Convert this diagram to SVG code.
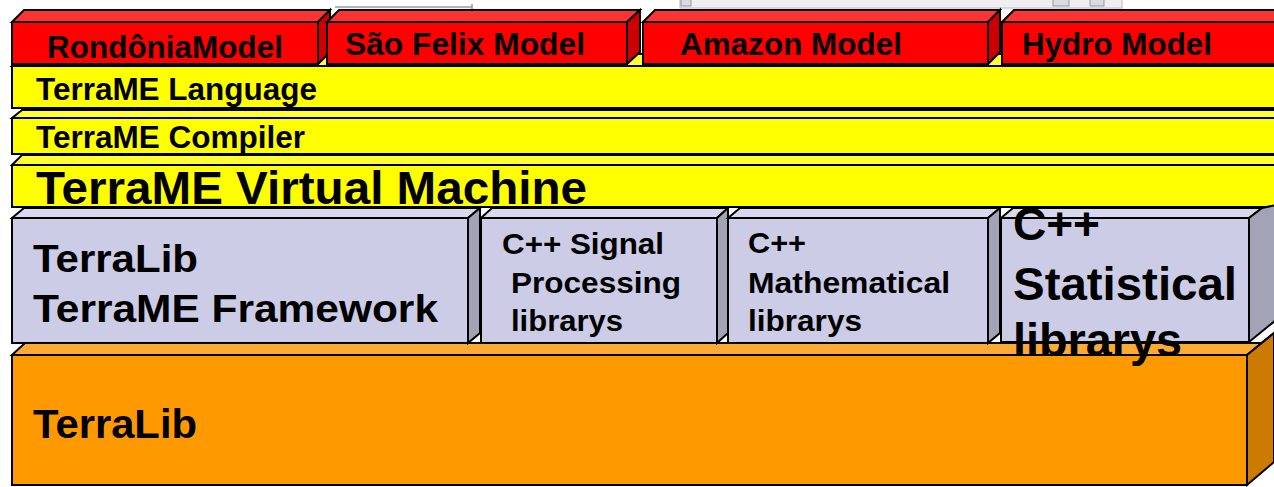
<svg xmlns="http://www.w3.org/2000/svg" width="1274" height="487" viewBox="0 0 1274 487">
<style>
  .b{stroke:#000;stroke-width:2;stroke-linejoin:miter}
  .rf{fill:#FF0000}.rt{fill:#FF3333}.rs{fill:#CC0000}
  .yf{fill:#FFFF00}.yt{fill:#FFFF33}
  .lf{fill:#CCCCE6}.lt{fill:#D9D9EE}.ls{fill:#A3A3B8}
  .of{fill:#FF9900}.ot{fill:#FFAA33}.os{fill:#CC7A00}
  text{font-family:"Liberation Sans",Arial,sans-serif;font-weight:bold;fill:#000}
  .s30{font-size:31px}.s29{font-size:30px}.s38{font-size:39px}.s41{font-size:41px}.s44{font-size:46px}
</style>
<rect width="1274" height="487" fill="#fff"/>
<g id="ui-fragment">
  <line x1="335" y1="7" x2="472" y2="7" stroke="#9a9a9a" stroke-width="1.5"/>
  <line x1="472" y1="4" x2="472" y2="9" stroke="#9a9a9a" stroke-width="1.5"/>
  <rect x="680" y="-2" width="442" height="10" fill="#EFEFF3" stroke="#B8B8C0" stroke-width="1"/>
  <rect x="681" y="-2" width="10" height="8" fill="#DADAE2" stroke="#999" stroke-width="1"/>
  <rect x="1053" y="-2" width="16" height="8" fill="#DADAE2" stroke="#999" stroke-width="1"/>
  <rect x="1090" y="-2" width="14" height="8" fill="#DADAE2" stroke="#999" stroke-width="1"/>
</g>
<g id="orange-terralib">
  <polygon class="b ot" points="12,355 25,343 1274,343 1274,333 1247,355"/>
  <polygon class="b os" points="1247,355 1274,333 1274,462 1247,485"/>
  <rect class="b of" x="12" y="355" width="1235" height="130"/>
  <text class="s41" x="33" y="438" textLength="164" lengthAdjust="spacingAndGlyphs">TerraLib</text>
</g>
<g id="yellow-language">
  <polygon class="b yt" points="12,66 24,54 1290,54 1278,66"/>
  <rect class="b yf" x="12" y="66" width="1280" height="42"/>
  <text class="s30" x="36" y="100" textLength="281" lengthAdjust="spacingAndGlyphs">TerraME Language</text>
</g>
<g id="yellow-compiler">
  <polygon class="b yt" points="12,118 22,110 1290,110 1280,118"/>
  <rect class="b yf" x="12" y="118" width="1280" height="36"/>
  <text class="s30" x="36" y="148" textLength="269" lengthAdjust="spacingAndGlyphs">TerraME Compiler</text>
</g>
<g id="yellow-vm">
  <polygon class="b yt" points="12,165 22,155 1290,155 1280,165"/>
  <rect class="b yf" x="12" y="165" width="1280" height="42"/>
  <text class="s44" x="36" y="204" textLength="551" lengthAdjust="spacingAndGlyphs">TerraME Virtual Machine</text>
</g>
<g id="red-rondonia">
  <polygon class="b rt" points="12,22 24,10 330,10 318,22"/>
  <polygon class="b rs" points="318,22 330,10 330,52 318,64"/>
  <rect class="b rf" x="12" y="22" width="306" height="42"/>
  <text class="s30" x="47" y="58" textLength="236" lengthAdjust="spacingAndGlyphs">RondôniaModel</text>
</g>
<g id="red-saofelix">
  <polygon class="b rt" points="327,22 339,10 640,10 627,22"/>
  <polygon class="b rs" points="627,22 640,10 640,52 627,64"/>
  <rect class="b rf" x="327" y="22" width="300" height="42"/>
  <text class="s30" x="345" y="55" textLength="240" lengthAdjust="spacingAndGlyphs">São Felix Model</text>
</g>
<g id="red-amazon">
  <polygon class="b rt" points="643,22 655,10 1000,10 988,22"/>
  <polygon class="b rs" points="988,22 1000,10 1000,52 988,64"/>
  <rect class="b rf" x="643" y="22" width="345" height="42"/>
  <text class="s30" x="680" y="55" textLength="222" lengthAdjust="spacingAndGlyphs">Amazon Model</text>
</g>
<g id="red-hydro">
  <polygon class="b rt" points="1002,22 1014,10 1290,10 1280,22"/>
  <rect class="b rf" x="1002" y="22" width="290" height="42"/>
  <text class="s30" x="1022" y="55" textLength="190" lengthAdjust="spacingAndGlyphs">Hydro Model</text>
</g>
<g id="lav-framework">
  <polygon class="b lt" points="12,218 24,208 480,208 468,218"/>
  <polygon class="b ls" points="468,218 480,208 480,333 468,343"/>
  <rect class="b lf" x="12" y="218" width="456" height="125"/>
  <text class="s38" x="33" y="272" textLength="165" lengthAdjust="spacingAndGlyphs">TerraLib</text>
  <text class="s38" x="33" y="322" textLength="405" lengthAdjust="spacingAndGlyphs">TerraME Framework</text>
</g>
<g id="lav-signal">
  <polygon class="b lt" points="481,218 492,208 728,208 717,218"/>
  <polygon class="b ls" points="717,218 728,208 728,333 717,343"/>
  <rect class="b lf" x="481" y="218" width="236" height="125"/>
  <text class="s29" x="502" y="254" textLength="162" lengthAdjust="spacingAndGlyphs">C++ Signal</text>
  <text class="s29" x="511" y="293" textLength="170" lengthAdjust="spacingAndGlyphs">Processing</text>
  <text class="s29" x="511" y="331" textLength="112" lengthAdjust="spacingAndGlyphs">librarys</text>
</g>
<g id="lav-math">
  <polygon class="b lt" points="728,218 740,208 1000,208 988,218"/>
  <polygon class="b ls" points="988,218 1000,208 1000,333 988,343"/>
  <rect class="b lf" x="728" y="218" width="260" height="125"/>
  <text class="s29" x="748" y="253" textLength="58" lengthAdjust="spacingAndGlyphs">C++</text>
  <text class="s29" x="748" y="293" textLength="202" lengthAdjust="spacingAndGlyphs">Mathematical</text>
  <text class="s29" x="748" y="331" textLength="114" lengthAdjust="spacingAndGlyphs">librarys</text>
</g>
<g id="lav-statistical">
  <polygon class="b lt" points="1001,218 1013,208 1262,208 1249,218"/>
  <polygon class="b ls" points="1249,218 1262,208 1276,205 1276,320 1249,342"/>
  <rect class="b lf" x="1001" y="218" width="248" height="124"/>
  <text class="s44" x="1013" y="240" textLength="87" lengthAdjust="spacingAndGlyphs">C++</text>
  <text class="s44" x="1013" y="300" textLength="224" lengthAdjust="spacingAndGlyphs">Statistical</text>
  <text class="s44" x="1013" y="356" textLength="169" lengthAdjust="spacingAndGlyphs">librarys</text>
</g>
</svg>
